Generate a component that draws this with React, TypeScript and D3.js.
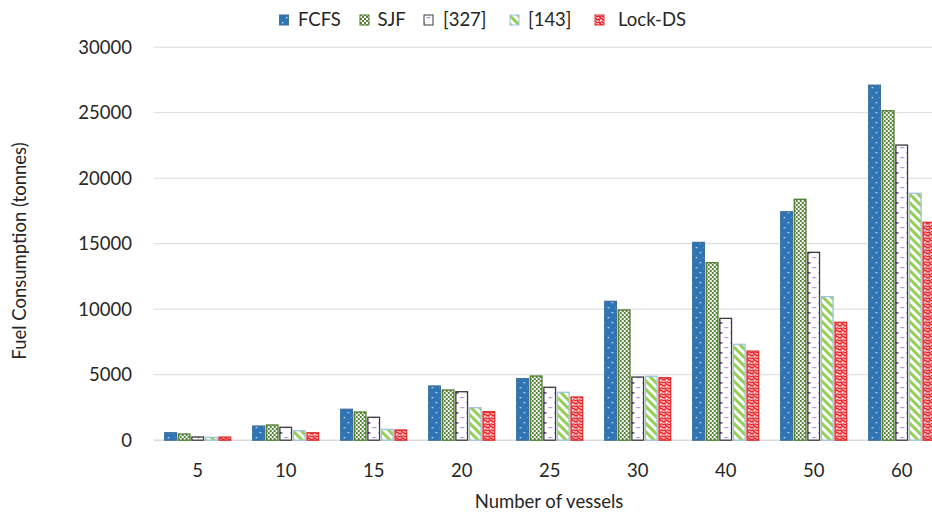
import React from "react";
import * as d3 from "d3";

const categories = ["5", "10", "15", "20", "25", "30", "40", "50", "60"];
const seriesNames = ["FCFS", "SJF", "[327]", "[143]", "Lock-DS"];
const fcfs = [570, 1080, 2360, 4140, 4700, 10600, 15100, 17440, 27100];
const sjf = [470, 1160, 2150, 3830, 4900, 9940, 13550, 18390, 25150];
const ref327 = [245, 985, 1750, 3700, 4040, 4820, 9300, 14340, 22530];
const ref143 = [220, 725, 830, 2480, 3660, 4880, 7320, 10960, 18850];
const lockDs = [240, 570, 780, 2180, 3300, 4770, 6800, 9000, 16630];
const yTicks = [0, 5000, 10000, 15000, 20000, 25000, 30000];

const seriesValues = [fcfs, sjf, ref327, ref143, lockDs];
const strokes = ["#41719C", "#4E7A2E", "#3A3A3A", "#9DC3E6", "#E03030"];
const patternIds = ["pFcfs", "pSjf", "p327", "p143", "pLock"];

const W = 932;
const H = 514;
const FONT = "Lato, 'Open Sans', sans-serif";

export default function App() {
  const x = d3.scaleBand<string>().domain(categories).range([153.7, 945.7]).padding(0);
  const xi = d3.scaleBand<string>().domain(seriesNames).range([11, 77]).paddingInner(0.14);
  const y = d3.scaleLinear().domain([0, 30000]).range([440.2, 47.2]);

  const legendX = [279.5, 360, 424, 510, 595];
  const legendTextX = [298, 377.5, 443, 528, 618];

  return (
    <svg
      width={W}
      height={H}
      style={{ position: "absolute", left: 0, top: 0, background: "#fff" }}
      fontFamily={FONT}
    >
      <defs>
        <pattern id="pFcfs" patternUnits="userSpaceOnUse" width="8" height="10">
          <rect width="8" height="10" fill="#2E75B6" />
          <rect x="2" y="2" width="1.3" height="1.3" fill="#fff" opacity="0.9" />
          <rect x="6" y="7" width="1.3" height="1.3" fill="#fff" opacity="0.9" />
        </pattern>
        <pattern id="pSjf" patternUnits="userSpaceOnUse" width="4" height="4">
          <rect width="4" height="4" fill="#548235" />
          <rect x="0" y="0" width="2" height="2" fill="#fff" />
          <rect x="2" y="2" width="2" height="2" fill="#fff" />
        </pattern>
        <pattern id="p327" patternUnits="userSpaceOnUse" width="12" height="10">
          <rect width="12" height="10" fill="#fff" />
          <rect x="1" y="2" width="3.5" height="1.8" fill="#7030A0" />
          <rect x="6.5" y="7" width="4" height="1.2" fill="#B394DA" />
        </pattern>
        <pattern
          id="p143"
          patternUnits="userSpaceOnUse"
          width="6"
          height="6"
          patternTransform="rotate(-45)"
        >
          <rect width="6" height="6" fill="#fff" />
          <rect x="0" y="0" width="3" height="6" fill="#92D050" />
        </pattern>
        <pattern id="pLock" patternUnits="userSpaceOnUse" width="6" height="6">
          <rect width="6" height="6" fill="#fff" />
          <path
            d="M0,1 L2,0 L3,2 L5,1 L6,3 M0,4 L1,6 M1,3 L3,5 L5,4 L6,6"
            stroke="#E8232A"
            strokeWidth="1.4"
            fill="none"
          />
        </pattern>
      </defs>

      {/* horizontal gridlines */}
      {yTicks.map((t) => (
        <line
          key={"g" + t}
          x1={153.7}
          x2={W}
          y1={y(t)}
          y2={y(t)}
          stroke="#D9D9D9"
          strokeWidth={t === 0 ? 1.5 : 1}
        />
      ))}

      {/* y tick labels */}
      {yTicks.map((t) => (
        <text
          key={"t" + t}
          x={132}
          y={y(t)}
          dy="0.35em"
          textAnchor="end"
          fontSize={18.5}
          fill="#262626"
        >
          {t}
        </text>
      ))}

      {/* bars */}
      {categories.map((c, ci) => (
        <g key={c} transform={`translate(${x(c)},0)`}>
          {seriesNames.map((s, si) => {
            const v = seriesValues[si][ci];
            return (
              <rect
                key={s}
                x={xi(s)}
                y={y(v)}
                width={xi.bandwidth()}
                height={y(0) - y(v)}
                fill={`url(#${patternIds[si]})`}
                stroke={strokes[si]}
                strokeWidth={1.3}
              />
            );
          })}
        </g>
      ))}

      {/* x tick labels */}
      {categories.map((c) => (
        <text
          key={"x" + c}
          x={(x(c) as number) + 44}
          y={477}
          textAnchor="middle"
          fontSize={18.5}
          fill="#262626"
        >
          {c}
        </text>
      ))}

      {/* axis titles */}
      <text x={549} y={508} textAnchor="middle" fontSize={18.5} fill="#262626">
        Number of vessels
      </text>
      <text
        transform="translate(26,251) rotate(-90)"
        textAnchor="middle"
        fontSize={18.5}
        fill="#262626"
      >
        Fuel Consumption (tonnes)
      </text>

      {/* legend */}
      {seriesNames.map((s, si) => (
        <g key={"l" + s}>
          <rect
            x={legendX[si]}
            y={15}
            width={9}
            height={10}
            fill={`url(#${patternIds[si]})`}
            stroke={strokes[si]}
            strokeWidth={1}
          />
          <text x={legendTextX[si]} y={20} dy="0.35em" fontSize={18.5} fill="#262626">
            {s}
          </text>
        </g>
      ))}
    </svg>
  );
}
